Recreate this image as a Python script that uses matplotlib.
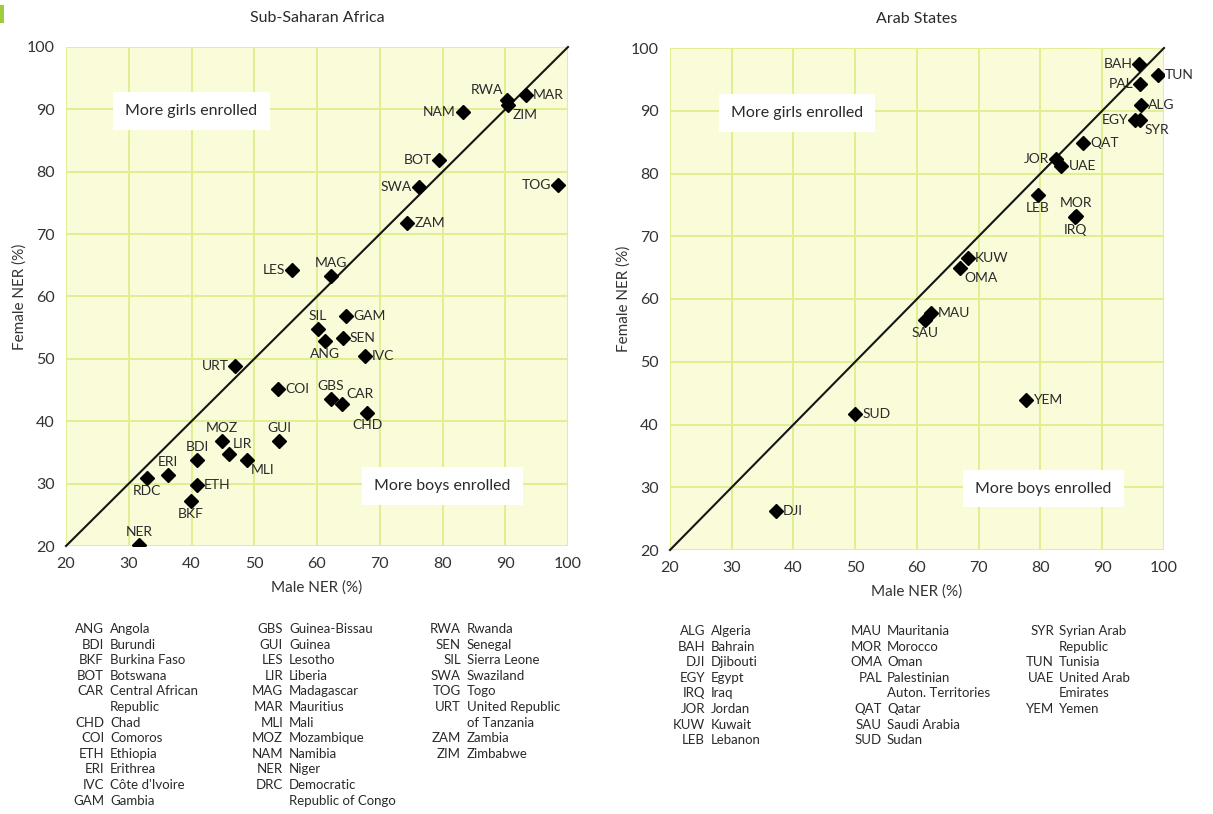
import matplotlib
matplotlib.use("Agg")
import matplotlib.pyplot as plt
from matplotlib.patches import Rectangle

plt.rcParams['font.family'] = ['Lato', 'DejaVu Sans']

# ---------------- data ----------------
ssa_codes = ['RWA', 'ZIM', 'MAR', 'NAM', 'BOT', 'SWA', 'TOG', 'ZAM', 'LES', 'MAG',
             'SIL', 'GAM', 'ANG', 'SEN', 'IVC', 'URT', 'COI', 'GBS', 'CAR', 'CHD',
             'GUI', 'MOZ', 'LIR', 'MLI', 'BDI', 'ERI', 'RDC', 'ETH', 'BKF', 'NER']
ssa_male = [90.3, 90.5, 93.3, 83.2, 79.5, 76.2, 98.4, 74.4, 56.0, 62.2,
            60.1, 64.7, 61.3, 64.1, 67.6, 47.0, 53.8, 62.2, 64.0, 68.0,
            54.0, 44.9, 45.9, 48.8, 40.9, 36.2, 32.9, 40.8, 39.9, 31.6]
ssa_female = [91.5, 90.7, 92.3, 89.6, 81.9, 77.6, 77.8, 71.8, 64.2, 63.3,
              54.8, 56.9, 52.9, 53.3, 50.4, 48.9, 45.2, 43.6, 42.7, 41.4,
              36.8, 36.9, 34.7, 33.8, 33.8, 31.4, 30.9, 29.7, 27.2, 20.2]

arab_codes = ['BAH', 'TUN', 'PAL', 'ALG', 'EGY', 'SYR', 'QAT', 'JOR', 'UAE', 'LEB',
              'MOR', 'IRQ', 'KUW', 'OMA', 'MAU', 'SAU', 'SUD', 'YEM', 'DJI']
arab_male = [96.0, 99.0, 96.1, 96.3, 95.3, 96.1, 86.9, 82.5, 83.4, 79.6,
             85.7, 85.6, 68.2, 67.0, 62.2, 61.3, 50.0, 77.6, 37.1]
arab_female = [97.5, 95.7, 94.3, 90.9, 88.5, 88.5, 84.9, 82.3, 81.2, 76.6,
               73.3, 73.0, 66.6, 65.0, 57.7, 56.6, 41.7, 43.9, 26.2]

ticks = [20, 30, 40, 50, 60, 70, 80, 90, 100]

ssa_legend = [
    [('ANG', 'Angola'), ('BDI', 'Burundi'), ('BKF', 'Burkina Faso'), ('BOT', 'Botswana'),
     ('CAR', 'Central African\nRepublic'), ('CHD', 'Chad'), ('COI', 'Comoros'),
     ('ETH', 'Ethiopia'), ('ERI', 'Erithrea'), ('IVC', "Côte d'Ivoire"), ('GAM', 'Gambia')],
    [('GBS', 'Guinea-Bissau'), ('GUI', 'Guinea'), ('LES', 'Lesotho'), ('LIR', 'Liberia'),
     ('MAG', 'Madagascar'), ('MAR', 'Mauritius'), ('MLI', 'Mali'), ('MOZ', 'Mozambique'),
     ('NAM', 'Namibia'), ('NER', 'Niger'), ('DRC', 'Democratic\nRepublic of Congo')],
    [('RWA', 'Rwanda'), ('SEN', 'Senegal'), ('SIL', 'Sierra Leone'), ('SWA', 'Swaziland'),
     ('TOG', 'Togo'), ('URT', 'United Republic\nof Tanzania'), ('ZAM', 'Zambia'),
     ('ZIM', 'Zimbabwe')],
]
arab_legend = [
    [('ALG', 'Algeria'), ('BAH', 'Bahrain'), ('DJI', 'Djibouti'), ('EGY', 'Egypt'),
     ('IRQ', 'Iraq'), ('JOR', 'Jordan'), ('KUW', 'Kuwait'), ('LEB', 'Lebanon')],
    [('MAU', 'Mauritania'), ('MOR', 'Morocco'), ('OMA', 'Oman'),
     ('PAL', 'Palestinian\nAuton. Territories'), ('QAT', 'Qatar'), ('SAU', 'Saudi Arabia'),
     ('SUD', 'Sudan')],
    [('SYR', 'Syrian Arab\nRepublic'), ('TUN', 'Tunisia'), ('UAE', 'United Arab\nEmirates'),
     ('YEM', 'Yemen')],
]

# ---------------- label placement (style) ----------------
ssa_place = {'RWA': 'al', 'ZIM': 'br', 'MAR': 'r', 'NAM': 'l', 'BOT': 'l', 'SWA': 'l',
             'TOG': 'l', 'ZAM': 'r', 'LES': 'l', 'MAG': 'a', 'SIL': 'a', 'GAM': 'r',
             'ANG': 'b', 'SEN': 'r', 'IVC': 'r', 'URT': 'l', 'COI': 'r', 'GBS': 'a',
             'CAR': 'ar', 'CHD': 'b', 'GUI': 'a', 'MOZ': 'a', 'LIR': 'ar', 'MLI': 'br',
             'BDI': 'a', 'ERI': 'a', 'RDC': 'b', 'ETH': 'r', 'BKF': 'b', 'NER': 'a'}
arab_place = {'BAH': 'l', 'TUN': 'r', 'PAL': 'l', 'ALG': 'r', 'EGY': 'l', 'SYR': 'br',
              'QAT': 'r', 'JOR': 'l', 'UAE': 'r', 'LEB': 'b', 'MOR': 'a', 'IRQ': 'b',
              'KUW': 'r', 'OMA': 'br', 'MAU': 'r', 'SAU': 'b', 'SUD': 'r', 'YEM': 'r',
              'DJI': 'r'}
OFF = {'r': (5, 0, 'left', 'center'), 'l': (-5, 0, 'right', 'center'),
       'a': (0, 5, 'center', 'bottom'), 'b': (0, -5, 'center', 'top'),
       'ar': (3, 3, 'left', 'bottom'), 'al': (-3, 3, 'right', 'bottom'),
       'br': (3, -3, 'left', 'top'), 'bl': (-3, -3, 'right', 'top')}

W, H = 1213, 814
BG = '#f9fbd9'
GRID = '#e2ee92'
TXT = '#2a2a2a'

fig = plt.figure(figsize=(W / 100, H / 100), dpi=100)
fig.patches.append(Rectangle((0, 1 - 23 / H), 4 / W, 18 / H, transform=fig.transFigure,
                             facecolor='#9fcc3b', edgecolor='none'))


def panel(rect, title, codes, male, female, place, girls_xy, boys_xy):
    ax = fig.add_axes(rect)
    ax.set_facecolor(BG)
    ax.set_xlim(20, 100)
    ax.set_ylim(20, 100)
    for s in ax.spines.values():
        s.set_visible(False)
    ax.set_xticks(ticks)
    ax.set_yticks(ticks)
    ax.tick_params(length=0, labelsize=11.5, labelcolor='#333333', pad=8)
    ax.grid(True, color=GRID, lw=1.4)
    ax.set_axisbelow(True)
    ax.plot([20, 100], [20, 100], color='#151515', lw=1.5, zorder=2, clip_on=False)
    ax.plot(male, female, linestyle='none', marker='D', ms=7, color='black', zorder=3)
    for c, x, y in zip(codes, male, female):
        dx, dy, ha, va = OFF[place[c]]
        ax.annotate(c, (x, y), xytext=(dx, dy), textcoords='offset points',
                    ha=ha, va=va, fontsize=10, color=TXT, zorder=4)
    box = dict(boxstyle='square,pad=0.75', facecolor='white', edgecolor='none')
    ax.text(*girls_xy, 'More girls enrolled', ha='center', va='center', fontsize=11.5,
            color=TXT, bbox=box, zorder=2.5)
    ax.text(*boys_xy, 'More boys enrolled', ha='center', va='center', fontsize=11.5,
            color=TXT, bbox=box, zorder=2.5)
    ax.set_title(title, fontsize=11.5, color=TXT, pad=18)
    ax.set_xlabel('Male NER (%)', fontsize=11, color='#333333', labelpad=7)
    ax.set_ylabel('Female NER (%)', fontsize=11, color='#333333', labelpad=0)
    return ax


panel([66 / W, 1 - 546 / H, 502 / W, 499 / H], 'Sub-Saharan Africa',
      ssa_codes, ssa_male, ssa_female, ssa_place, (40, 89.7), (80, 29.6))
panel([670 / W, 1 - 550 / H, 494 / W, 502 / H], 'Arab States',
      arab_codes, arab_male, arab_female, arab_place, (40.5, 89.6), (80.5, 29.8))


def legend(cols, xcodes, xnames, y0, step=15.6):
    for col, xc, xn in zip(cols, xcodes, xnames):
        y = y0
        for code, name in col:
            fig.text(xc / W, 1 - y / H, code, ha='right', va='center', fontsize=9.5,
                     color=TXT)
            for line in name.split('\n'):
                fig.text(xn / W, 1 - y / H, line, ha='left', va='center', fontsize=9.5,
                         color=TXT)
                y += step


legend(ssa_legend, [104, 283, 461], [110, 289, 467], 629)
legend(arab_legend, [705, 882, 1054], [711, 887, 1059], 631)

fig.savefig('out.png', dpi=100, facecolor='white')
